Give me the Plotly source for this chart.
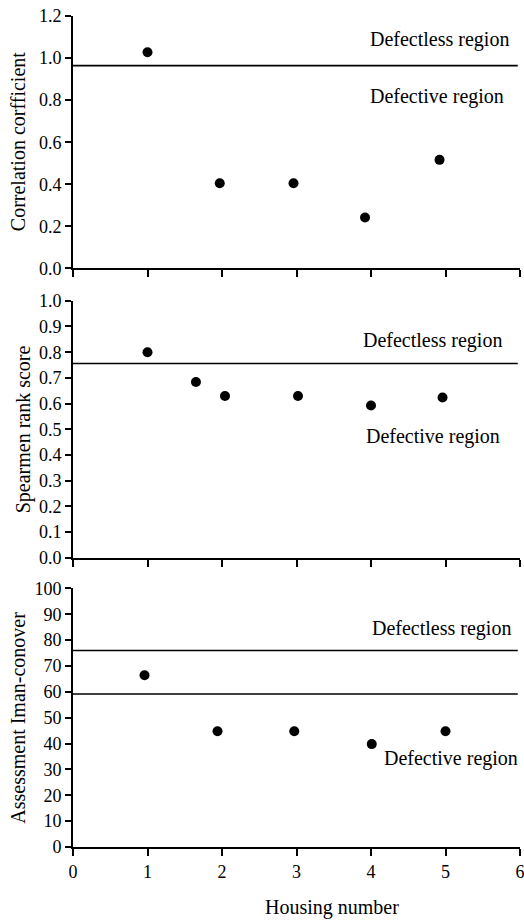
import plotly.graph_objects as go

# Data
corr_x = [1.0, 1.97, 2.96, 3.92, 4.92]
corr_y = [1.028, 0.405, 0.405, 0.242, 0.516]
corr_threshold = [0.964]

spear_x = [1.0, 1.65, 2.04, 3.02, 4.0, 4.96]
spear_y = [0.80, 0.684, 0.630, 0.630, 0.593, 0.624]
spear_threshold = [0.756]

iman_x = [0.96, 1.94, 2.97, 4.01, 5.0]
iman_y = [66.4, 44.8, 44.8, 39.8, 44.8]
iman_thresholds = [76.0, 59.2]

y_titles = ["Correlation corfficient", "Spearmen rank score", "Assessment Iman-conover"]
x_title = "Housing number"
x_ticks = [0, 1, 2, 3, 4, 5, 6]

FONT = "Liberation Serif"
FS_TICK = 18
FS_TEXT = 20

fig = go.Figure()

domains = [(0.6963, 1.0), (0.3479, 0.6573), (0.0, 0.3111)]
series = [(corr_x, corr_y), (spear_x, spear_y), (iman_x, iman_y)]
yranges = [[0, 1.2], [0, 1.0], [0, 100]]
ydticks = [0.2, 0.1, 10]
yfmt = [".1f", ".1f", "d"]

for i, (sx, sy) in enumerate(series):
    n = "" if i == 0 else str(i + 1)
    fig.add_trace(go.Scatter(x=sx, y=sy, mode="markers",
                             marker=dict(color="black", size=10),
                             xaxis="x" + n, yaxis="y" + n, showlegend=False,
                             cliponaxis=False))
    fig.layout["xaxis" + n] = dict(
        domain=[0, 1], anchor="y" + n, range=[0, 6], tickvals=x_ticks,
        showticklabels=(i == 2), ticks="outside", ticklen=7, tickwidth=2,
        tickcolor="black", showline=True, linecolor="black", linewidth=2,
        showgrid=False, zeroline=False, ticklabeloverflow="allow",
        automargin=False,
        tickfont=dict(family=FONT, size=FS_TICK, color="black"))
    fig.layout["yaxis" + n] = dict(
        domain=list(domains[i]), anchor="x" + n, range=yranges[i],
        dtick=ydticks[i], tick0=0, tickformat=yfmt[i],
        ticks="outside", ticklen=6, tickwidth=2, tickcolor="black",
        showline=True, linecolor="black", linewidth=2,
        showgrid=False, zeroline=False, automargin=False,
        tickfont=dict(family=FONT, size=FS_TICK, color="black"))

thresholds = [corr_threshold, spear_threshold, iman_thresholds]
for i, ths in enumerate(thresholds):
    n = "" if i == 0 else str(i + 1)
    for t in ths:
        fig.add_shape(type="line", xref="x" + n + " domain", yref="y" + n,
                      x0=0, x1=0.995, y0=t, y1=t,
                      line=dict(color="black", width=1.6))

def label(text, x, y, n):
    fig.add_annotation(text=text, x=x, y=y, xref="x" + n, yref="y" + n,
                       showarrow=False, xanchor="center", yanchor="middle",
                       font=dict(family=FONT, size=FS_TEXT, color="black"))

label("Defectless region", 4.92, 1.088, "")
label("Defective region", 4.88, 0.819, "")
label("Defectless region", 4.83, 0.847, "2")
label("Defective region", 4.83, 0.471, "2")
label("Defectless region", 4.95, 84.5, "3")
label("Defective region", 5.08, 34.2, "3")

# y-axis titles
title_shift = [-55, -50, -55]
for i, t in enumerate(y_titles):
    d = domains[i]
    fig.add_annotation(text=t, xref="paper", yref="paper", x=0,
                       y=(d[0] + d[1]) / 2, xshift=title_shift[i],
                       textangle=-90, showarrow=False,
                       xanchor="center", yanchor="middle",
                       font=dict(family=FONT, size=FS_TEXT, color="black"))

fig.add_annotation(text=x_title, xref="paper", yref="paper", x=0.579, y=0,
                   yshift=-60, showarrow=False, xanchor="center",
                   yanchor="middle",
                   font=dict(family=FONT, size=FS_TEXT, color="black"))

fig.update_layout(width=524, height=920,
                  margin=dict(l=73, r=4, t=16, b=73.3, autoexpand=False),
                  paper_bgcolor="white", plot_bgcolor="white",
                  font=dict(family=FONT, size=FS_TICK, color="black"))

fig.write_html("out.html")
